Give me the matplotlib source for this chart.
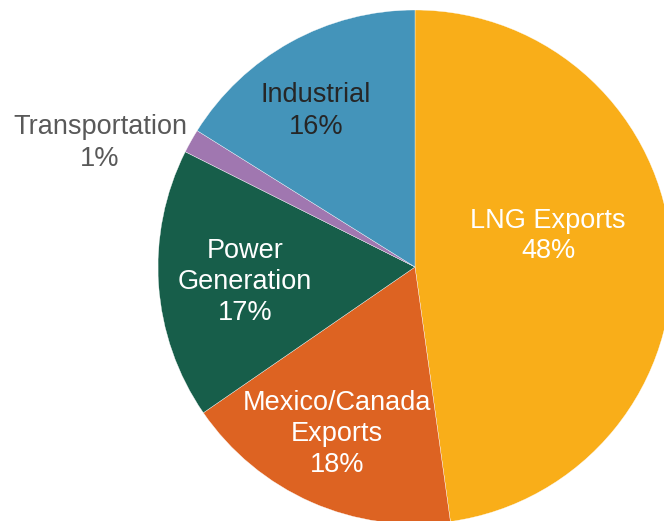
import matplotlib
matplotlib.use("Agg")
import matplotlib.pyplot as plt

categories = ["LNG Exports", "Mexico/Canada\nExports", "Power\nGeneration", "Transportation", "Industrial"]
values = [47.8, 17.6, 17.0, 1.5, 16.1]
pct_labels = ["48%", "18%", "17%", "1%", "16%"]
colors = ["#F9AE19", "#DD6322", "#175E4A", "#A077B0", "#4494BA"]
text_colors = ["white", "white", "white", "#595959", "#262626"]

W, H = 664, 521
fig = plt.figure(figsize=(W / 100, H / 100), dpi=100)
ax = fig.add_axes([0, 0, 1, 1])

cx, cy, r = 415, H - 267, 257
ax.pie(values, colors=colors, startangle=90, counterclock=False,
       center=(cx, cy), radius=r, frame=True,
       wedgeprops=dict(edgecolor="white", linewidth=0.25))
ax.set_xlim(0, W)
ax.set_ylim(0, H)
ax.set_aspect("equal")
ax.axis("off")

# label centers (pixel coords, y from top)
label_pos = [(548, 236), (337, 434), (245, 282), (100, 143), (316, 111)]
for cat, pct, (x, y), tc in zip(categories, pct_labels, label_pos, text_colors):
    ax.text(x, H - y, cat + "\n" + pct, ha="center", va="center",
            color=tc, fontsize=19.5, family="Liberation Sans", linespacing=1.25)

fig.savefig("out.png", dpi=100)
